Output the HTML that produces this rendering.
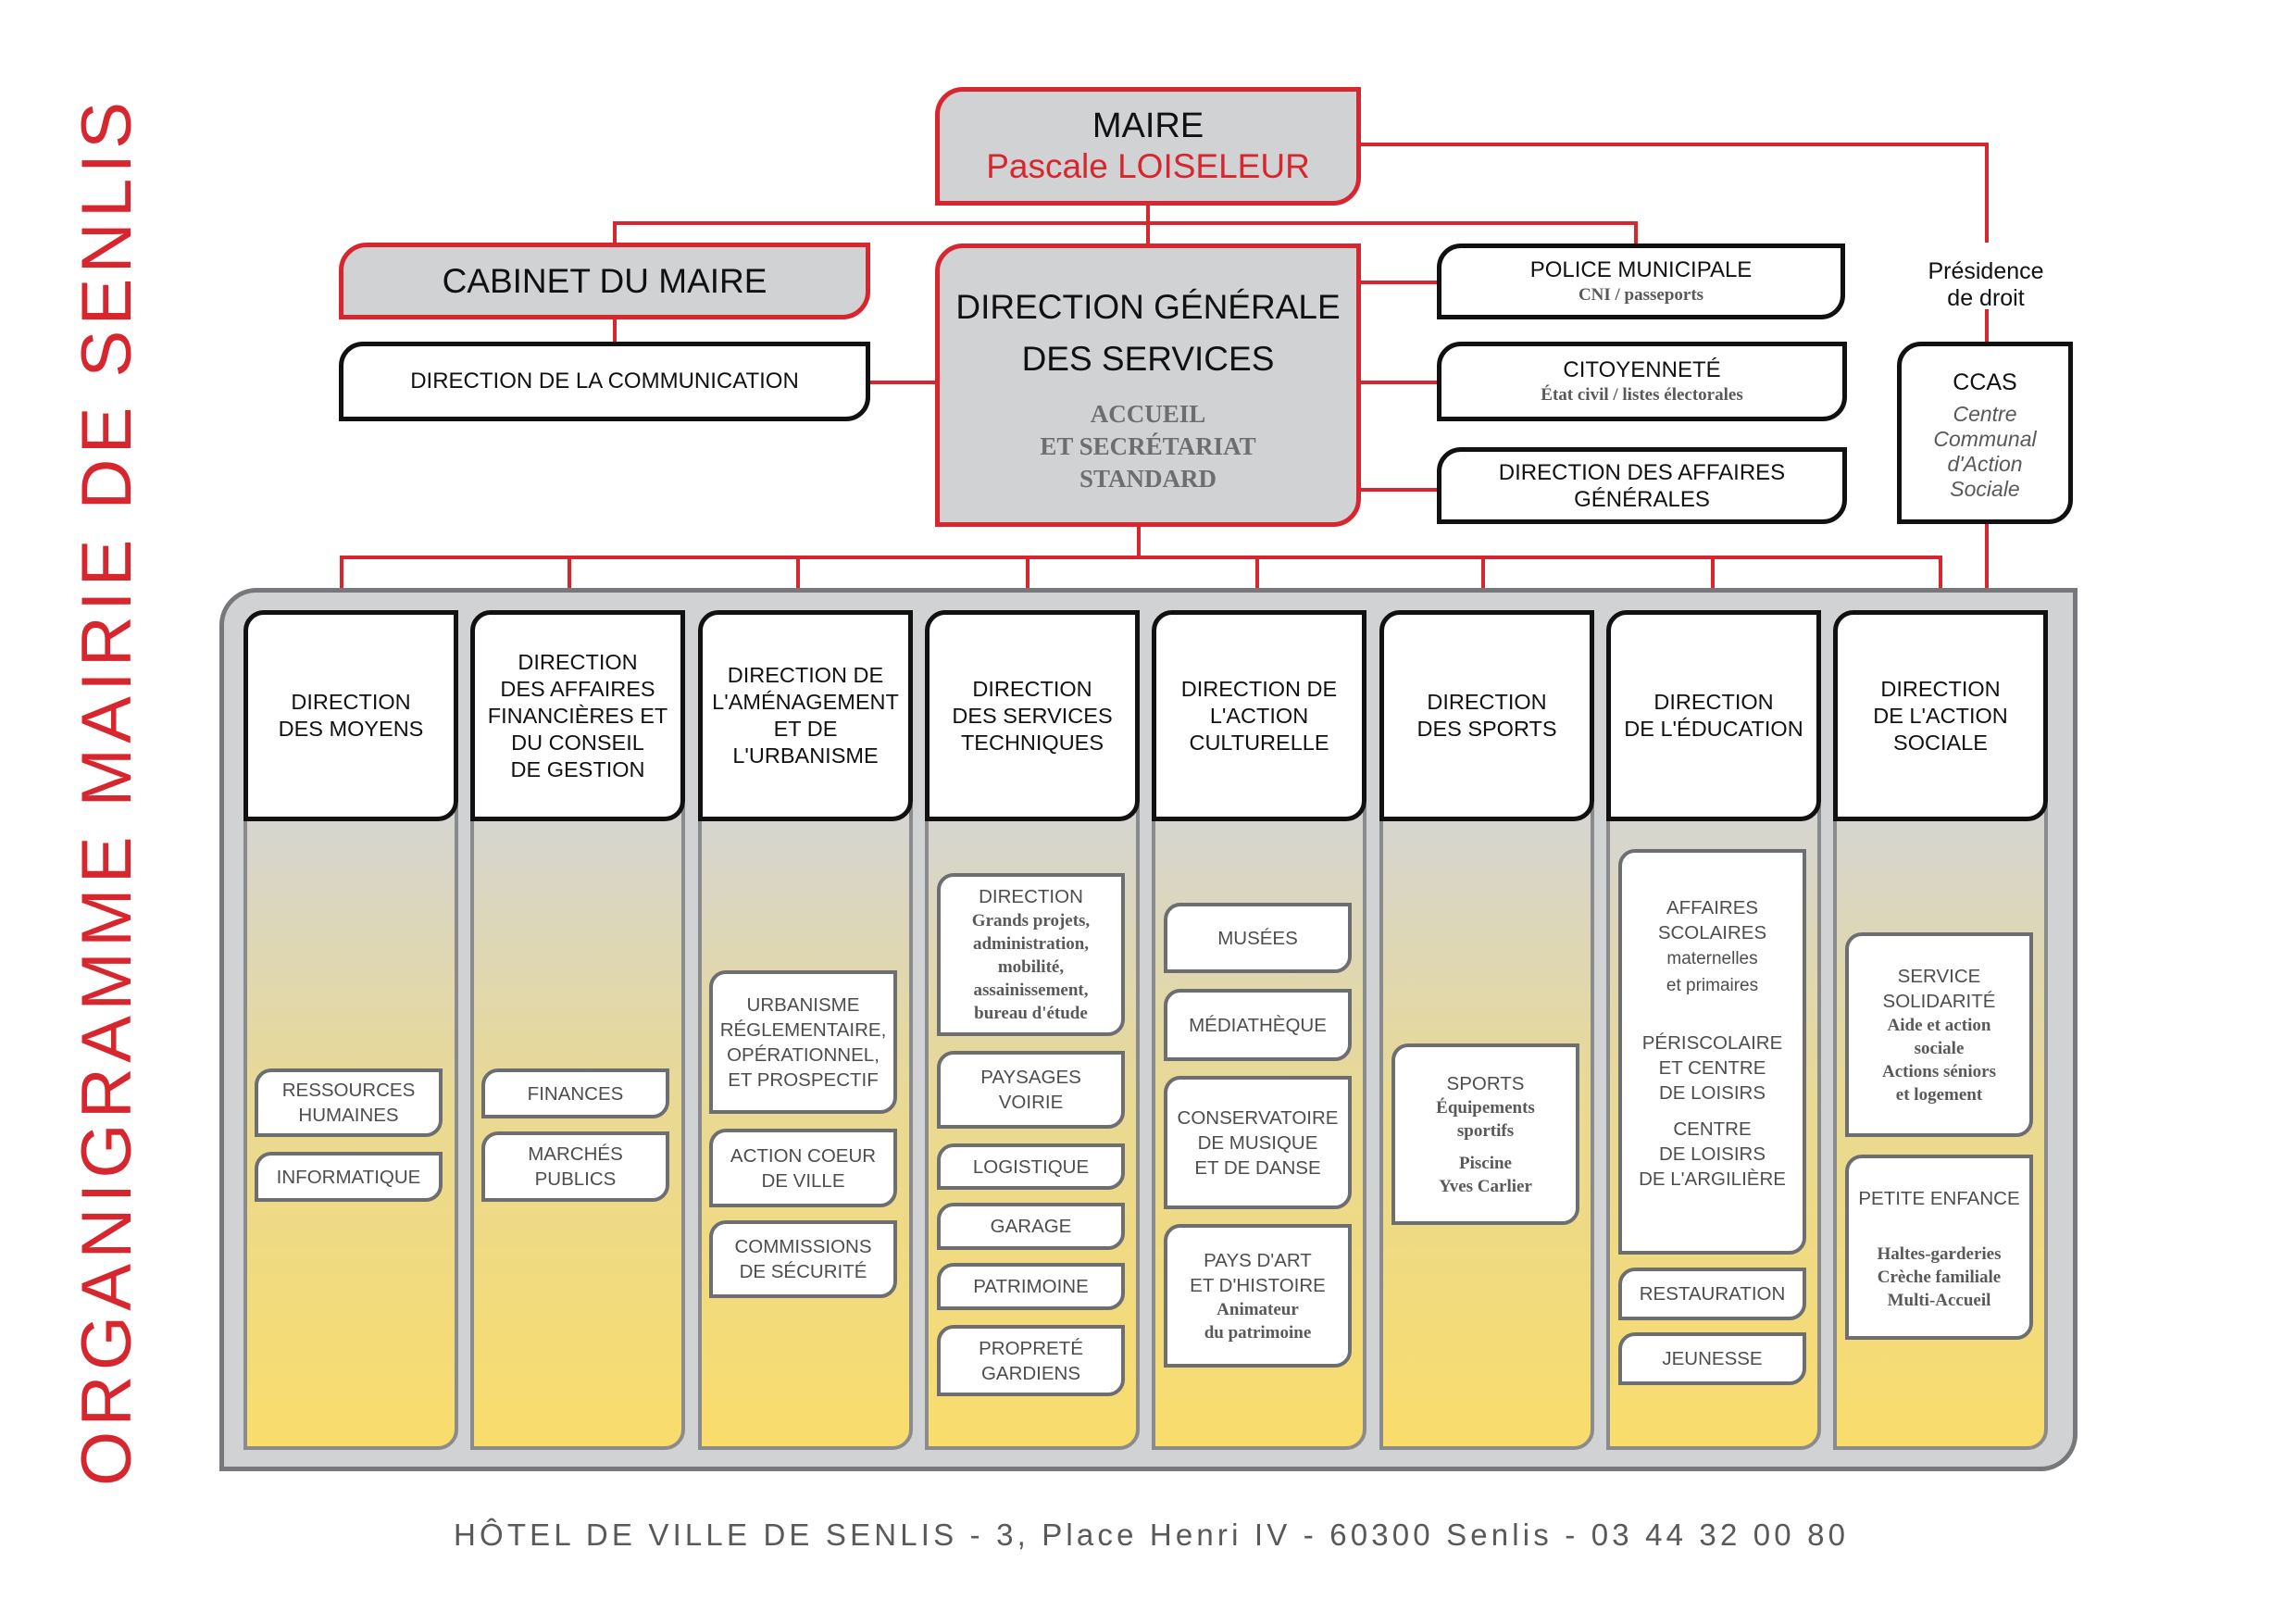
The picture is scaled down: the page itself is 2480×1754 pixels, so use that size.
<!DOCTYPE html>
<html><head><meta charset="utf-8"><style>
*{margin:0;padding:0;box-sizing:border-box}
body{width:2480px;height:1754px;background:#fff;position:relative;overflow:hidden;font-family:"Liberation Sans",sans-serif}
.b{position:absolute;display:flex;flex-direction:column;justify-content:center;align-items:center;text-align:center}
.red{border:5px solid #d7262e;background:#d1d2d4;border-radius:30px 0 30px 0}
.blk{border:5px solid #111;background:#fff;border-radius:26px 0 26px 0}
.hd{border:5px solid #111;background:#fff;border-radius:22px 0 22px 0;font-size:23.5px;line-height:29px;color:#111;top:659px;height:228px;width:232px}
.pn{position:absolute;top:870px;height:696px;width:232px;border:4px solid #8a8b8d;border-radius:0 0 22px 0;background:linear-gradient(#d5d5d3,#e8d994 45%,#f9dc6c)}
.s{border:4px solid #6d6e71;background:#fff;border-radius:18px 0 18px 0;width:203px;color:#4d4d4f;font-size:20.5px;line-height:27px;padding:0 3px}
.sf{font-family:"Liberation Serif",serif;font-weight:bold;font-size:19px;line-height:25px;color:#58595b}
</style></head><body>

<svg width="2480" height="1754" style="position:absolute;left:0;top:0">
<g stroke="#d7262e" stroke-width="4" fill="none">
<polyline points="1470,156 2146,156 2146,262"/>
<line x1="2146" y1="334" x2="2146" y2="369"/>
<line x1="2146" y1="565" x2="2146" y2="661"/>
<line x1="1240" y1="222" x2="1240" y2="263"/>
<polyline points="664,263 664,241 1767,241 1767,263"/>
<line x1="664" y1="345" x2="664" y2="369"/>
<line x1="940" y1="413" x2="1010" y2="413"/>
<line x1="1470" y1="305" x2="1552" y2="305"/>
<line x1="1470" y1="413" x2="1552" y2="413"/>
<line x1="1470" y1="529" x2="1552" y2="529"/>
<line x1="1230" y1="569" x2="1230" y2="602"/>
<line x1="367" y1="602" x2="2098" y2="602"/>
<line x1="369" y1="600" x2="369" y2="637"/>
<line x1="615" y1="600" x2="615" y2="637"/>
<line x1="862" y1="600" x2="862" y2="637"/>
<line x1="1110" y1="600" x2="1110" y2="637"/>
<line x1="1358" y1="600" x2="1358" y2="637"/>
<line x1="1602" y1="600" x2="1602" y2="637"/>
<line x1="1850" y1="600" x2="1850" y2="637"/>
<line x1="2096" y1="600" x2="2096" y2="637"/>
</g>
<text transform="translate(141,1605) rotate(-90)" font-family="Liberation Sans, sans-serif" font-size="76" fill="#d7262e" textLength="1495" lengthAdjust="spacing">ORGANIGRAMME MAIRIE DE SENLIS</text>
<text x="490" y="1669" font-family="Liberation Sans, sans-serif" font-size="33" fill="#58595b" textLength="1503" lengthAdjust="spacing">HÔTEL DE VILLE DE SENLIS - 3, Place Henri IV - 60300 Senlis - 03 44 32 00 80</text>
<text x="2145" y="301" text-anchor="middle" font-family="Liberation Sans, sans-serif" font-size="25" fill="#111">Présidence</text>
<text x="2145" y="330" text-anchor="middle" font-family="Liberation Sans, sans-serif" font-size="25" fill="#111">de droit</text>
</svg>

<div class="b red" style="left:1010px;top:94px;width:460px;height:128px">
<div style="font-size:38px;line-height:44px;color:#111">MAIRE</div>
<div style="font-size:37px;line-height:44px;color:#d7262e">Pascale LOISELEUR</div></div>

<div class="b red" style="left:366px;top:262px;width:574px;height:83px;font-size:37px;color:#111">CABINET DU MAIRE</div>
<div class="b blk" style="left:366px;top:369px;width:574px;height:86px;font-size:24px;color:#111">DIRECTION DE LA COMMUNICATION</div>

<div class="b red" style="left:1010px;top:263px;width:460px;height:306px;justify-content:flex-start;padding-top:36px">
<div style="font-size:37px;line-height:56px;color:#111">DIRECTION GÉNÉRALE<br>DES SERVICES</div>
<div style="margin-top:14px;font-family:'Liberation Serif',serif;font-weight:bold;font-size:27px;line-height:35px;color:#6d6e71">ACCUEIL<br>ET SECRÉTARIAT<br>STANDARD</div></div>

<div class="b blk" style="left:1552px;top:263px;width:441px;height:82px">
<div style="font-size:24px;line-height:30px;color:#111">POLICE MUNICIPALE</div>
<div class="sf" style="font-size:19px;line-height:24px">CNI / passeports</div></div>
<div class="b blk" style="left:1552px;top:369px;width:443px;height:86px">
<div style="font-size:24px;line-height:30px;color:#111">CITOYENNETÉ</div>
<div class="sf" style="font-size:19px;line-height:24px">État civil / listes électorales</div></div>
<div class="b blk" style="left:1552px;top:483px;width:443px;height:83px;font-size:24px;line-height:29px;color:#111">DIRECTION DES AFFAIRES<br>GÉNÉRALES</div>

<div class="b blk" style="left:2049px;top:369px;width:190px;height:197px;justify-content:flex-start;padding-top:22px">
<div style="font-size:25px;line-height:34px;color:#111">CCAS</div>
<div style="font-style:italic;font-size:23px;line-height:27px;color:#58595b;margin-top:4px">Centre<br>Communal<br>d'Action<br>Sociale</div></div>

<div style="position:absolute;left:237px;top:635px;width:2007px;height:954px;background:#d1d2d4;border:5px solid #77787b;border-radius:40px 0 40px 0"></div>

<div class="pn" style="left:263px"></div>
<div class="pn" style="left:508px"></div>
<div class="pn" style="left:754px"></div>
<div class="pn" style="left:999px"></div>
<div class="pn" style="left:1244px"></div>
<div class="pn" style="left:1490px"></div>
<div class="pn" style="left:1735px"></div>
<div class="pn" style="left:1980px"></div>

<div class="b hd" style="left:263px">DIRECTION<br>DES MOYENS</div>
<div class="b hd" style="left:508px">DIRECTION<br>DES AFFAIRES<br>FINANCIÈRES ET<br>DU CONSEIL<br>DE GESTION</div>
<div class="b hd" style="left:754px">DIRECTION DE<br>L'AMÉNAGEMENT<br>ET DE<br>L'URBANISME</div>
<div class="b hd" style="left:999px">DIRECTION<br>DES SERVICES<br>TECHNIQUES</div>
<div class="b hd" style="left:1244px">DIRECTION DE<br>L'ACTION<br>CULTURELLE</div>
<div class="b hd" style="left:1490px">DIRECTION<br>DES SPORTS</div>
<div class="b hd" style="left:1735px">DIRECTION<br>DE L'ÉDUCATION</div>
<div class="b hd" style="left:1980px">DIRECTION<br>DE L'ACTION<br>SOCIALE</div>

<div class="b s" style="left:275px;top:1154px;height:74px">RESSOURCES<br>HUMAINES</div>
<div class="b s" style="left:275px;top:1244px;height:54px">INFORMATIQUE</div>
<div class="b s" style="left:520px;top:1154px;height:54px">FINANCES</div>
<div class="b s" style="left:520px;top:1222px;height:76px">MARCHÉS<br>PUBLICS</div>
<div class="b s" style="left:766px;top:1048px;height:155px">URBANISME<br>RÉGLEMENTAIRE,<br>OPÉRATIONNEL,<br>ET PROSPECTIF</div>
<div class="b s" style="left:766px;top:1219px;height:85px">ACTION COEUR<br>DE VILLE</div>
<div class="b s" style="left:766px;top:1318px;height:84px">COMMISSIONS<br>DE SÉCURITÉ</div>
<div class="b s" style="left:1012px;top:943px;height:176px"><div>DIRECTION</div><div class="sf">Grands projets,<br>administration,<br>mobilité,<br>assainissement,<br>bureau d'étude</div></div>
<div class="b s" style="left:1012px;top:1135px;height:84px">PAYSAGES<br>VOIRIE</div>
<div class="b s" style="left:1012px;top:1235px;height:50px">LOGISTIQUE</div>
<div class="b s" style="left:1012px;top:1299px;height:51px">GARAGE</div>
<div class="b s" style="left:1012px;top:1364px;height:51px">PATRIMOINE</div>
<div class="b s" style="left:1012px;top:1431px;height:77px">PROPRETÉ<br>GARDIENS</div>
<div class="b s" style="left:1257px;top:975px;height:76px">MUSÉES</div>
<div class="b s" style="left:1257px;top:1068px;height:78px">MÉDIATHÈQUE</div>
<div class="b s" style="left:1257px;top:1162px;height:144px">CONSERVATOIRE<br>DE MUSIQUE<br>ET DE DANSE</div>
<div class="b s" style="left:1257px;top:1322px;height:155px"><div>PAYS D'ART<br>ET D'HISTOIRE</div><div class="sf">Animateur<br>du patrimoine</div></div>
<div class="b s" style="left:1503px;top:1127px;height:196px"><div>SPORTS</div><div class="sf">Équipements<br>sportifs</div><div class="sf" style="margin-top:10px">Piscine<br>Yves Carlier</div></div>
<div class="b s" style="left:1748px;top:917px;height:438px;justify-content:flex-start;padding-top:46px"><div>AFFAIRES<br>SCOLAIRES</div><div style="font-size:19px;line-height:29px">maternelles<br>et primaires</div><div style="margin-top:34px">PÉRISCOLAIRE<br>ET CENTRE<br>DE LOISIRS</div><div style="margin-top:12px">CENTRE<br>DE LOISIRS<br>DE L'ARGILIÈRE</div></div>
<div class="b s" style="left:1748px;top:1369px;height:57px">RESTAURATION</div>
<div class="b s" style="left:1748px;top:1439px;height:57px">JEUNESSE</div>
<div class="b s" style="left:1993px;top:1007px;height:221px"><div>SERVICE<br>SOLIDARITÉ</div><div class="sf">Aide et action<br>sociale<br>Actions séniors<br>et logement</div></div>
<div class="b s" style="left:1993px;top:1247px;height:200px;justify-content:flex-start;padding-top:30px"><div>PETITE ENFANCE</div><div class="sf" style="margin-top:34px">Haltes-garderies<br>Crèche familiale<br>Multi-Accueil</div></div>

</body></html>
